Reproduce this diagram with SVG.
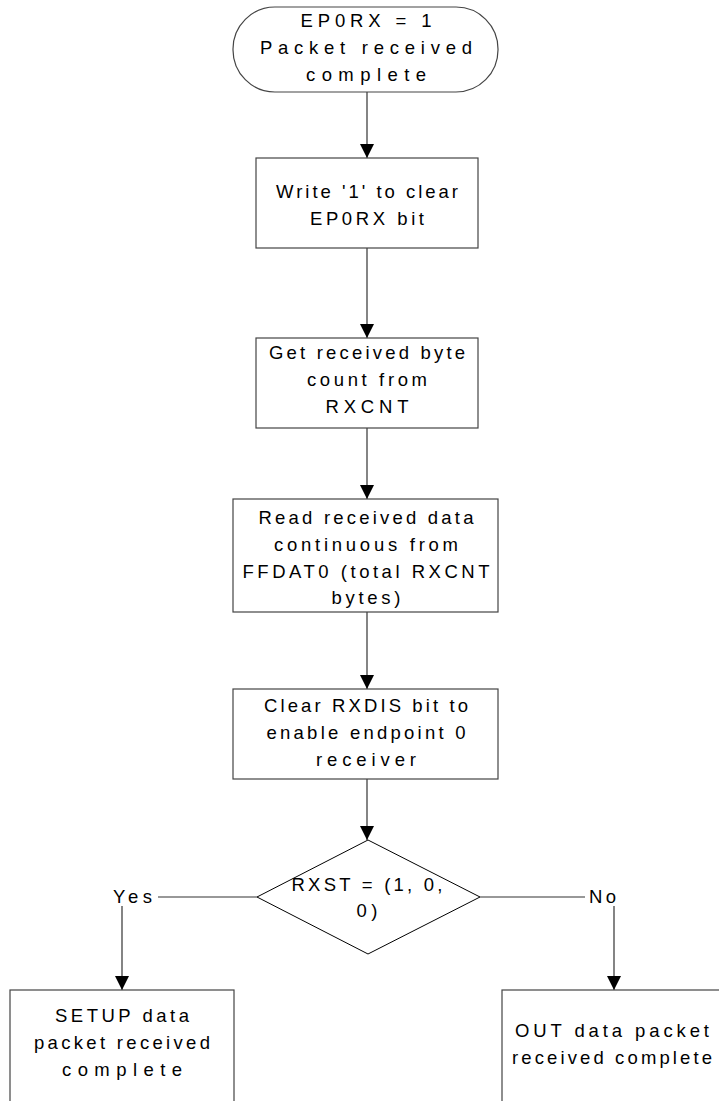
<svg xmlns="http://www.w3.org/2000/svg" width="719" height="1101" viewBox="0 0 719 1101">
<style>
.box{fill:#fff;stroke:#444;stroke-width:1.2}
.dia{fill:#fff;stroke:#000;stroke-width:1}
.ln{fill:none;stroke:#333;stroke-width:1.2}
.t{font-family:"Liberation Sans",Arial,sans-serif;font-size:18.5px;fill:#000;text-anchor:middle}
.l{font-family:"Liberation Sans",Arial,sans-serif;font-size:18.5px;fill:#000}
</style>
<defs>
<marker id="ah" viewBox="0 0 14 14" refX="14" refY="7" markerWidth="14" markerHeight="14" markerUnits="userSpaceOnUse" orient="auto">
<path d="M0,0 L14,7 L0,14 Z" fill="#000"/>
</marker>
</defs>
<rect width="719" height="1101" fill="#fff"/>
<g id="connectors">
<line class="ln" x1="367" y1="92" x2="367" y2="158" marker-end="url(#ah)"/>
<line class="ln" x1="367" y1="248" x2="367" y2="338" marker-end="url(#ah)"/>
<line class="ln" x1="367" y1="428" x2="367" y2="499" marker-end="url(#ah)"/>
<line class="ln" x1="367" y1="612" x2="367" y2="689" marker-end="url(#ah)"/>
<line class="ln" x1="367" y1="779" x2="367" y2="840" marker-end="url(#ah)"/>
<line class="ln" x1="257" y1="897" x2="158" y2="897"/>
<line class="ln" x1="122" y1="906" x2="122" y2="990" marker-end="url(#ah)"/>
<line class="ln" x1="480" y1="897" x2="585" y2="897"/>
<line class="ln" x1="614" y1="906" x2="614" y2="990" marker-end="url(#ah)"/>
<text class="l" x="113" y="903" textLength="39" lengthAdjust="spacing">Yes</text>
<text class="l" x="589" y="903" textLength="27" lengthAdjust="spacing">No</text>
</g>
<g id="start">
<rect class="box" x="233" y="7" width="265" height="85" rx="42" ry="42"/>
<text class="t" x="366" y="27" textLength="131" lengthAdjust="spacing">EP0RX = 1</text>
<text class="t" x="366" y="54" textLength="212" lengthAdjust="spacing">Packet received</text>
<text class="t" x="366" y="81" textLength="120" lengthAdjust="spacing">complete</text>
</g>
<g id="clear-ep0rx">
<rect class="box" x="256" y="158" width="222" height="90"/>
<text class="t" x="367" y="198" textLength="182" lengthAdjust="spacing">Write '1' to clear</text>
<text class="t" x="367" y="225" textLength="114" lengthAdjust="spacing">EP0RX bit</text>
</g>
<g id="get-count">
<rect class="box" x="256" y="338" width="222" height="90"/>
<text class="t" x="367" y="359" textLength="196" lengthAdjust="spacing">Get received byte</text>
<text class="t" x="367" y="386" textLength="120" lengthAdjust="spacing">count from</text>
<text class="t" x="367" y="413" textLength="83" lengthAdjust="spacing">RXCNT</text>
</g>
<g id="read-data">
<rect class="box" x="233" y="499" width="265" height="113"/>
<text class="t" x="366" y="524" textLength="215" lengthAdjust="spacing">Read received data</text>
<text class="t" x="366" y="551" textLength="184" lengthAdjust="spacing">continuous from</text>
<text class="t" x="366" y="578" textLength="247" lengthAdjust="spacing">FFDAT0 (total RXCNT</text>
<text class="t" x="366" y="604" textLength="69" lengthAdjust="spacing">bytes)</text>
</g>
<g id="clear-rxdis">
<rect class="box" x="233" y="689" width="265" height="90"/>
<text class="t" x="366" y="712" textLength="204" lengthAdjust="spacing">Clear RXDIS bit to</text>
<text class="t" x="366" y="739" textLength="199" lengthAdjust="spacing">enable endpoint 0</text>
<text class="t" x="366" y="766" textLength="100" lengthAdjust="spacing">receiver</text>
</g>
<g id="decision">
<polygon class="dia" points="368,840 480,897 368,954 257,897"/>
<text class="t" x="367" y="891" textLength="151" lengthAdjust="spacing">RXST = (1, 0,</text>
<text class="t" x="367" y="917" textLength="21" lengthAdjust="spacing">0)</text>
</g>
<g id="setup-received">
<rect class="box" x="10" y="990" width="224" height="120"/>
<text class="t" x="122" y="1022" textLength="134" lengthAdjust="spacing">SETUP data</text>
<text class="t" x="122" y="1049" textLength="176" lengthAdjust="spacing">packet received</text>
<text class="t" x="122" y="1076" textLength="120" lengthAdjust="spacing">complete</text>
</g>
<g id="out-received">
<rect class="box" x="502" y="990" width="224" height="120"/>
<text class="t" x="612" y="1037" textLength="194" lengthAdjust="spacing">OUT data packet</text>
<text class="t" x="612" y="1064" textLength="200" lengthAdjust="spacing">received complete</text>
</g>
</svg>
